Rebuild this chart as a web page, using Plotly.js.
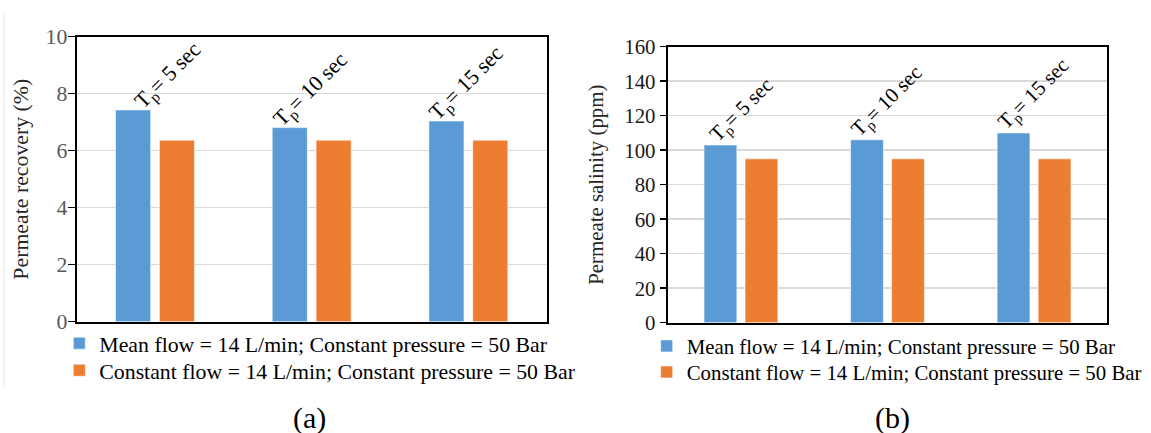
<!DOCTYPE html>
<html>
<head>
<meta charset="utf-8">
<script src="https://cdn.plot.ly/plotly-3.0.1.min.js"></script>
<style>
  html, body { margin: 0; padding: 0; background: #fff; }
  #chart { width: 1151px; height: 433px; }
</style>
</head>
<body>
<div id="chart"></div>
<script>
// Pulse durations shown above each group (also the category keys)
const pulseLabels = ['T<sub>p</sub>= 5 sec', 'T<sub>p</sub>= 10 sec', 'T<sub>p</sub>= 15 sec'];
const seriesNames = [
  'Mean flow = 14 L/min; Constant pressure = 50 Bar',
  'Constant flow = 14 L/min; Constant pressure = 50 Bar'
];

// (a) permeate recovery, %
const recoveryPulsed = [7.43, 6.81, 7.04];
const recoveryConstant = [6.37, 6.37, 6.37];
const recoveryTicks = [0, 2, 4, 6, 8, 10];

// (b) permeate salinity, ppm
const salinityPulsed = [103, 106, 110];
const salinityConstant = [95, 95, 95];
const salinityTicks = [0, 20, 40, 60, 80, 100, 120, 140, 160];

const panelCaptions = ['(a)', '(b)'];

// ---- styling -------------------------------------------------------------
const W = 1151, H = 433;
const px = v => v / W;            // pixel -> paper x
const py = v => 1 - v / H;        // pixel -> paper y
const SERIF = 'Liberation Serif, Times New Roman, serif';
const BLUE = '#5B9BD5', ORANGE = '#ED7D31';
const BARGAP = 0.44, GROUPGAP = 0.2;
const sizeA = 21.8, sizeB = 20.85;

function bars(x, y, name, color, xa, ya, legendId) {
  return {
    type: 'bar', x: x, y: y, name: name,
    xaxis: xa, yaxis: ya, legend: legendId,
    marker: { color: color, line: { color: 'rgba(255,255,255,0.55)', width: 1 } },
    hoverinfo: 'skip'
  };
}

const data = [
  bars(pulseLabels, recoveryPulsed, seriesNames[0], BLUE, 'x', 'y', 'legend'),
  bars(pulseLabels, recoveryConstant, seriesNames[1], ORANGE, 'x', 'y', 'legend2'),
  bars(pulseLabels, salinityPulsed, seriesNames[0], BLUE, 'x2', 'y2', 'legend3'),
  bars(pulseLabels, salinityConstant, seriesNames[1], ORANGE, 'x2', 'y2', 'legend4')
];

function xAxis(domain, anchor) {
  return {
    domain: domain, anchor: anchor, type: 'category',
    showticklabels: false, ticks: '', showgrid: false, zeroline: false,
    showline: true, mirror: true, linecolor: '#000', linewidth: 2,
    fixedrange: true
  };
}

function yAxis(domain, anchor, ticks, size, tickColor, title, standoff, ticklen, labelGap) {
  return {
    domain: domain, anchor: anchor,
    range: [ticks[0], ticks[ticks.length - 1]],
    tickmode: 'array', tickvals: ticks, ticktext: ticks.map(String),
    ticks: 'outside', ticklen: ticklen, tickwidth: 1.5, tickcolor: '#000',
    ticklabelstandoff: labelGap,
    showline: true, mirror: true, linecolor: '#000', linewidth: 2,
    showgrid: true, gridcolor: '#d9d9d9', gridwidth: 1.5, zeroline: false,
    tickfont: { family: SERIF, size: size, color: tickColor },
    title: { text: title, font: { family: SERIF, size: size, color: '#262626' }, standoff: standoff },
    fixedrange: true
  };
}

function legendBox(xPx, yPx, size) {
  return {
    x: px(xPx), y: py(yPx), xanchor: 'left', yanchor: 'middle',
    xref: 'paper', yref: 'paper',
    bgcolor: 'rgba(0,0,0,0)', borderwidth: 0,
    font: { family: SERIF, size: size, color: '#000' }
  };
}

// left edge of the first bar in a group, in category units
const firstBarLeft = -(1 - BARGAP) / 2 + (1 - BARGAP) / 2 * GROUPGAP / 2;

// rotated group labels start just above the left edge of the first bar
function pulseNotes(values, xa, ya, size, dx, dy, nudge) {
  return values.map((v, i) => ({
    x: i + firstBarLeft, y: v, xref: xa, yref: ya,
    text: pulseLabels[i], textangle: -45,
    xanchor: 'left', yanchor: 'bottom', showarrow: false,
    xshift: dx + nudge[i], yshift: dy,
    font: { family: SERIF, size: size, color: '#000' }
  }));
}

const annotations = [
  ...pulseNotes(recoveryPulsed, 'x', 'y', sizeA, -7, -8, [18, 0, 0]),
  ...pulseNotes(salinityPulsed, 'x2', 'y2', sizeB, -7, -5, [5, 0, 0]),
  { x: px(309), y: py(418), xref: 'paper', yref: 'paper', text: panelCaptions[0],
    showarrow: false, xanchor: 'center', yanchor: 'middle',
    font: { family: SERIF, size: 30, color: '#000' } },
  { x: px(892.3), y: py(418), xref: 'paper', yref: 'paper', text: panelCaptions[1],
    showarrow: false, xanchor: 'center', yanchor: 'middle',
    font: { family: SERIF, size: 30, color: '#000' } }
];

const layout = {
  width: W, height: H,
  margin: { l: 0, r: 0, t: 0, b: 0, pad: 0 },
  paper_bgcolor: '#fff', plot_bgcolor: '#fff',
  barmode: 'group', bargap: BARGAP, bargroupgap: GROUPGAP,
  font: { family: SERIF, color: '#000' },
  xaxis: xAxis([px(76.7), px(546.7)], 'y'),
  yaxis: yAxis([py(321.7), py(36.7)], 'x', recoveryTicks, sizeA, '#595959', 'Permeate recovery (%)', 11, 7, -4),
  xaxis2: xAxis([px(667.7), px(1107.3)], 'y2'),
  yaxis2: yAxis([py(322.7), py(46.7)], 'x2', salinityTicks, sizeB, '#1a1a1a', 'Permeate salinity (ppm)', 15, 6, 0),
  showlegend: true,
  legend: legendBox(59.3, 343.5, sizeA),
  legend2: legendBox(59.3, 370.6, sizeA),
  legend3: legendBox(646.7, 346.4, sizeB),
  legend4: legendBox(646.7, 372.4, sizeB),
  annotations: annotations,
  shapes: [
    { type: 'line', xref: 'paper', yref: 'paper', x0: px(4), x1: px(4), y0: py(13), y1: py(387),
      line: { color: '#e3e3e3', width: 1 } }
  ]
};

Plotly.newPlot('chart', data, layout, { staticPlot: true, displayModeBar: false });
</script>
</body>
</html>
